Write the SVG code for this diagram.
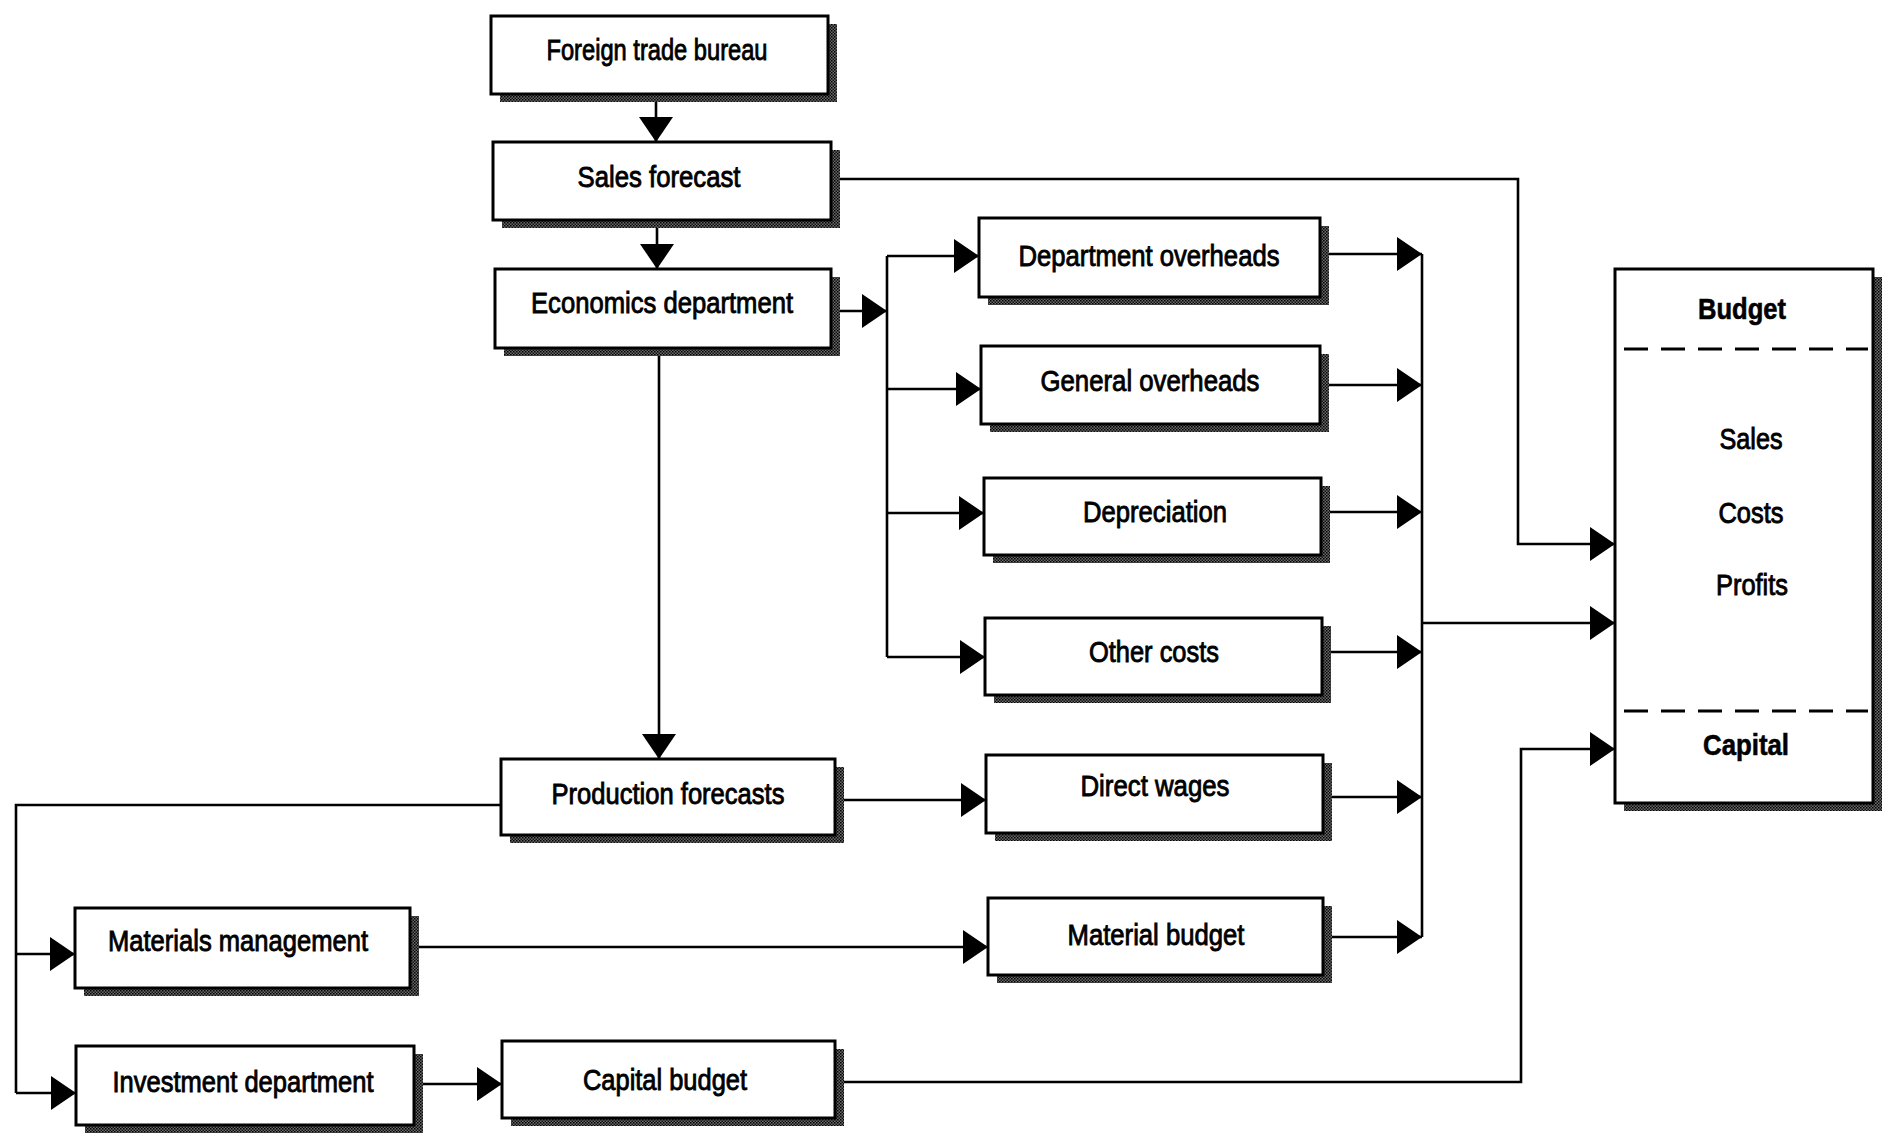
<svg xmlns="http://www.w3.org/2000/svg" width="1893" height="1138" viewBox="0 0 1893 1138">
  <defs>
    <!-- stippled drop shadow texture -->
    <pattern id="stipple" width="3" height="3" patternUnits="userSpaceOnUse">
      <rect width="3" height="3" fill="#6a6a6a"/>
      <rect x="0" y="0" width="1.5" height="1.5" fill="#000"/>
      <rect x="1.5" y="1.5" width="1.5" height="1.5" fill="#111"/>
    </pattern>
    <marker id="arrow" markerUnits="userSpaceOnUse" markerWidth="28" markerHeight="36" refX="25" refY="17" orient="auto">
      <path d="M0,0 L25,17 L0,34 z" fill="#000"/>
    </marker>
    <style>
      .box { fill: #fff; stroke: #000; stroke-width: 3; }
      .shadow { fill: url(#stipple); }
      .lbl { font-family: "Liberation Sans", Arial, sans-serif; font-size: 30px; fill: #000; stroke: #000; stroke-width: 0.9; text-anchor: middle; }
      .bold { font-weight: bold; stroke-width: 0.6; }
      .wire { fill: none; stroke: #000; stroke-width: 2.6; }
      .arr { marker-end: url(#arrow); }
      .dash { stroke: #000; stroke-width: 2.8; stroke-dasharray: 24 13; }
    </style>
  </defs>
  <rect width="1893" height="1138" fill="#fff"/>

  <!-- connectors -->
  <g id="connectors">
    <path class="wire arr" d="M656,94 L656,142"/>
    <path class="wire arr" d="M657,220 L657,269"/>
    <path class="wire arr" d="M831,179 L1518,179 L1518,544 L1615,544"/>
    <path class="wire arr" d="M831,311 L887,311"/>
    <path class="wire" d="M887,256 L887,657"/>
    <path class="wire arr" d="M887,256 L979,256"/>
    <path class="wire arr" d="M887,389 L981,389"/>
    <path class="wire arr" d="M887,513 L984,513"/>
    <path class="wire arr" d="M887,657 L985,657"/>
    <path class="wire arr" d="M659,348 L659,759"/>
    <path class="wire arr" d="M835,800 L986,800"/>
    <path class="wire" d="M501,805 L16,805 L16,1093"/>
    <path class="wire arr" d="M16,954 L75,954"/>
    <path class="wire arr" d="M16,1093 L76,1093"/>
    <path class="wire arr" d="M410,947 L988,947"/>
    <path class="wire arr" d="M414,1084 L502,1084"/>
    <path class="wire arr" d="M835,1082 L1521,1082 L1521,749 L1615,749"/>
    <path class="wire" d="M1422,254 L1422,937"/>
    <path class="wire arr" d="M1320,254 L1422,254"/>
    <path class="wire arr" d="M1320,385 L1422,385"/>
    <path class="wire arr" d="M1321,512 L1422,512"/>
    <path class="wire arr" d="M1322,652 L1422,652"/>
    <path class="wire arr" d="M1323,797 L1422,797"/>
    <path class="wire arr" d="M1323,937 L1422,937"/>
    <path class="wire arr" d="M1422,623 L1615,623"/>
  </g>

  <g id="foreign-trade-bureau">
    <rect class="shadow" x="500" y="24" width="337" height="78"/>
    <rect class="box" x="491" y="16" width="337" height="78"/>
    <text class="lbl" x="657" y="60" font-size="27" textLength="221" lengthAdjust="spacingAndGlyphs">Foreign trade bureau</text>
  </g>
  <g id="sales-forecast">
    <rect class="shadow" x="502" y="150" width="338" height="78"/>
    <rect class="box" x="493" y="142" width="338" height="78"/>
    <text class="lbl" x="659" y="187" textLength="163" lengthAdjust="spacingAndGlyphs">Sales forecast</text>
  </g>
  <g id="economics-department">
    <rect class="shadow" x="504" y="277" width="336" height="79"/>
    <rect class="box" x="495" y="269" width="336" height="79"/>
    <text class="lbl" x="662" y="313" textLength="262" lengthAdjust="spacingAndGlyphs">Economics department</text>
  </g>
  <g id="department-overheads">
    <rect class="shadow" x="988" y="226" width="341" height="79"/>
    <rect class="box" x="979" y="218" width="341" height="79"/>
    <text class="lbl" x="1149" y="266" textLength="261" lengthAdjust="spacingAndGlyphs">Department overheads</text>
  </g>
  <g id="general-overheads">
    <rect class="shadow" x="990" y="354" width="339" height="78"/>
    <rect class="box" x="981" y="346" width="339" height="78"/>
    <text class="lbl" x="1150" y="391" textLength="219" lengthAdjust="spacingAndGlyphs">General overheads</text>
  </g>
  <g id="depreciation">
    <rect class="shadow" x="993" y="486" width="337" height="77"/>
    <rect class="box" x="984" y="478" width="337" height="77"/>
    <text class="lbl" x="1155" y="522" textLength="144" lengthAdjust="spacingAndGlyphs">Depreciation</text>
  </g>
  <g id="other-costs">
    <rect class="shadow" x="994" y="626" width="337" height="77"/>
    <rect class="box" x="985" y="618" width="337" height="77"/>
    <text class="lbl" x="1154" y="662" textLength="130" lengthAdjust="spacingAndGlyphs">Other costs</text>
  </g>
  <g id="production-forecasts">
    <rect class="shadow" x="510" y="767" width="334" height="76"/>
    <rect class="box" x="501" y="759" width="334" height="76"/>
    <text class="lbl" x="668" y="804" textLength="233" lengthAdjust="spacingAndGlyphs">Production forecasts</text>
  </g>
  <g id="direct-wages">
    <rect class="shadow" x="995" y="763" width="337" height="78"/>
    <rect class="box" x="986" y="755" width="337" height="78"/>
    <text class="lbl" x="1155" y="796" textLength="149" lengthAdjust="spacingAndGlyphs">Direct wages</text>
  </g>
  <g id="materials-management">
    <rect class="shadow" x="84" y="916" width="335" height="80"/>
    <rect class="box" x="75" y="908" width="335" height="80"/>
    <text class="lbl" x="238" y="951" textLength="260" lengthAdjust="spacingAndGlyphs">Materials management</text>
  </g>
  <g id="material-budget">
    <rect class="shadow" x="997" y="906" width="335" height="77"/>
    <rect class="box" x="988" y="898" width="335" height="77"/>
    <text class="lbl" x="1156" y="945" textLength="177" lengthAdjust="spacingAndGlyphs">Material budget</text>
  </g>
  <g id="investment-department">
    <rect class="shadow" x="85" y="1054" width="338" height="79"/>
    <rect class="box" x="76" y="1046" width="338" height="79"/>
    <text class="lbl" x="243" y="1092" textLength="261" lengthAdjust="spacingAndGlyphs">Investment department</text>
  </g>
  <g id="capital-budget">
    <rect class="shadow" x="511" y="1049" width="333" height="77"/>
    <rect class="box" x="502" y="1041" width="333" height="77"/>
    <text class="lbl" x="665" y="1090" textLength="164" lengthAdjust="spacingAndGlyphs">Capital budget</text>
  </g>
  <g id="budget">
    <rect class="shadow" x="1624" y="277" width="258" height="534"/>
    <rect class="box" x="1615" y="269" width="258" height="534"/>
    <text class="lbl bold" x="1742" y="319" textLength="88" lengthAdjust="spacingAndGlyphs">Budget</text>
    <line class="dash" x1="1624" y1="349" x2="1868" y2="349"/>
    <text class="lbl" x="1751" y="449" textLength="63" lengthAdjust="spacingAndGlyphs">Sales</text>
    <text class="lbl" x="1751" y="523" textLength="65" lengthAdjust="spacingAndGlyphs">Costs</text>
    <text class="lbl" x="1752" y="595" textLength="72" lengthAdjust="spacingAndGlyphs">Profits</text>
    <line class="dash" x1="1624" y1="711" x2="1868" y2="711"/>
    <text class="lbl bold" x="1746" y="755" textLength="86" lengthAdjust="spacingAndGlyphs">Capital</text>
  </g>
</svg>
